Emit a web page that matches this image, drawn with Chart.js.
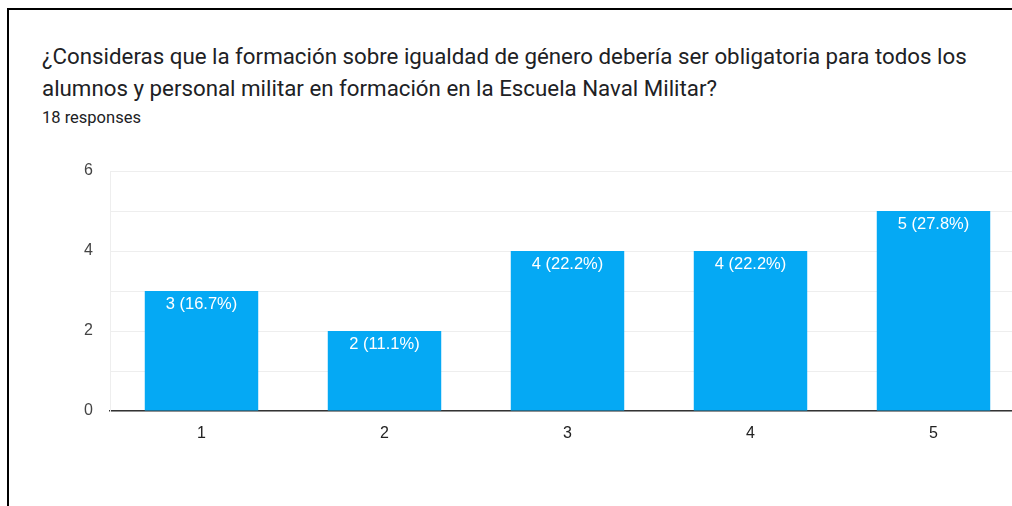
<!DOCTYPE html>
<html lang="es">

<head>
    <meta charset="UTF-8">
    <title>Encuesta</title>
    <script src="https://cdn.jsdelivr.net/npm/chart.js"></script>
    <style>
        html, body { margin: 0; padding: 0; background: #fff; overflow: hidden; }
        body { width: 1012px; height: 506px; position: relative; }
        .frame { position: absolute; left: 7px; top: 8px; right: -10px; bottom: -10px;
                 border-top: 2px solid #000; border-left: 2px solid #000; }
        .title { position: absolute; left: 42px; top: 40px; font-family: Roboto, sans-serif;
                 font-size: 22.3px; line-height: 32px; color: #202124; white-space: nowrap; }
        .count { position: absolute; left: 42px; top: 108px; font-family: Roboto, sans-serif;
                 font-size: 16.5px; color: #202124; }
        .wrap { position: absolute; left: 0; top: 0; width: 1040px; height: 506px; }
    </style>
</head>

<body>
    <div class="frame"></div>
    <div class="title">¿Consideras que la formación sobre igualdad de género debería ser obligatoria para todos los<br>alumnos y personal militar en formación en la Escuela Naval Militar?</div>
    <div class="count">18 responses</div>
    <div class="wrap"><canvas id="chart" width="1040" height="506"></canvas></div>

    <script>
        // answers on the 1-5 scale and how many picked each one
        const categories = ['1', '2', '3', '4', '5'];
        const counts = [3, 2, 4, 4, 5];
        const percents = ['16.7%', '11.1%', '22.2%', '22.2%', '27.8%'];
        const yTicks = [0, 2, 4, 6];

        // white "n (x%)" label just inside the top of each bar
        const barLabels = {
            id: 'barLabels',
            afterDatasetsDraw(chart) {
                const ctx = chart.ctx;
                const meta = chart.getDatasetMeta(0);
                ctx.save();
                ctx.fillStyle = '#ffffff';
                ctx.font = '16.5px Arial, "Liberation Sans", sans-serif';
                ctx.textAlign = 'center';
                ctx.textBaseline = 'middle';
                meta.data.forEach((bar, i) => {
                    ctx.fillText(counts[i] + ' (' + percents[i] + ')', bar.x, bar.y + 13);
                });
                ctx.restore();
            }
        };

        new Chart(document.getElementById('chart'), {
            type: 'bar',
            data: {
                labels: categories,
                datasets: [{
                    data: counts,
                    backgroundColor: '#05a9f4',
                    categoryPercentage: 1,
                    barPercentage: 0.62
                }]
            },
            options: {
                responsive: false,
                animation: false,
                events: [],
                layout: { padding: { left: 0, top: 171, right: 15, bottom: 0 } },
                plugins: { legend: { display: false }, tooltip: { enabled: false } },
                scales: {
                    x: {
                        grid: { display: false, drawTicks: false },
                        border: { display: true, color: '#333333', width: 1.5 },
                        ticks: { padding: 13, color: '#222222', font: { family: 'Arial, "Liberation Sans"', size: 16 } },
                        afterFit: s => { s.height = 95; }
                    },
                    y: {
                        min: 0,
                        max: 6,
                        ticks: {
                            stepSize: 1,
                            padding: 17,
                            color: '#444444',
                            font: { family: 'Arial, "Liberation Sans"', size: 16 },
                            callback: v => yTicks.includes(v) ? v : ''
                        },
                        grid: { color: '#eeeeee', drawTicks: false },
                        border: { display: true, color: '#eeeeee' },
                        afterFit: s => { s.width = 110; }
                    }
                }
            },
            plugins: [barLabels]
        });
    </script>
</body>

</html>
